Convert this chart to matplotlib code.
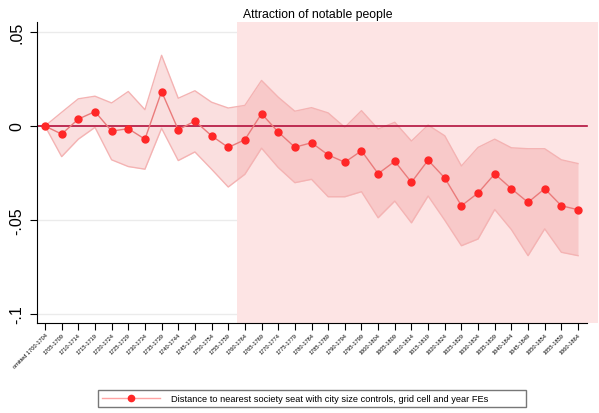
import numpy as np
import matplotlib
matplotlib.use("Agg")
import matplotlib.pyplot as plt

plt.rcParams['font.family'] = ['Liberation Sans', 'DejaVu Sans']

# periods 1700-1704 ... 1860-1864
starts = list(range(1700, 1865, 5))
labels = [f"{s}-{s + 4}" for s in starts]
labels[0] = "omitted " + labels[0]

coef = [0.0, -0.0043, 0.0037, 0.0077, -0.0027, -0.0014, -0.0070, 0.0184,
        -0.0020, 0.0027, -0.0052, -0.0114, -0.0073, 0.0066, -0.0032, -0.0113,
        -0.0089, -0.0154, -0.0193, -0.0132, -0.0254, -0.0188, -0.0300, -0.0182,
        -0.0277, -0.0425, -0.0357, -0.0255, -0.0334, -0.0407, -0.0334, -0.0425,
        -0.0446]
upper = [0.0, 0.0073, 0.0145, 0.0159, 0.0123, 0.0184, 0.0087, 0.0377,
         0.0148, 0.0188, 0.0127, 0.0096, 0.0110, 0.0243, 0.0154, 0.0079,
         0.0098, 0.0070, -0.0007, 0.0082, -0.0016, 0.0020, -0.0080, 0.0005,
         -0.0052, -0.0213, -0.0114, -0.0070, -0.0116, -0.0121, -0.0121, -0.0180,
         -0.0200]
lower = [0.0, -0.0163, -0.0070, -0.0007, -0.0180, -0.0216, -0.0230, -0.0012,
         -0.0184, -0.0138, -0.0230, -0.0325, -0.0257, -0.0118, -0.0221, -0.0302,
         -0.0284, -0.0377, -0.0377, -0.0350, -0.0489, -0.0400, -0.0516, -0.0373,
         -0.0502, -0.0638, -0.0602, -0.0445, -0.0552, -0.0691, -0.0548, -0.0673,
         -0.0691]

x = np.arange(len(labels))

fig = plt.figure(figsize=(5.99, 4.14), dpi=100)
ax = fig.add_axes([37 / 599, 1 - 324 / 414, 561 / 599, (324 - 23.3) / 414])

ax.set_xlim(-0.48, 33.2)
ax.set_ylim(-0.105, 0.0553)

# grid below everything
for yv in [0.05, -0.05, -0.1]:
    ax.axhline(yv, color='#ebebeb', lw=1, zorder=0)

# shaded period
ax.axvspan(11.5, 33.2, color='#fde4e4', lw=0, zorder=1)

# confidence band
ax.fill_between(x, lower, upper, color=(0.9, 0.32, 0.32), alpha=0.185, lw=0, zorder=2)
ax.plot(x, upper, color='#f4b3b3', lw=1, zorder=3)
ax.plot(x, lower, color='#f4b3b3', lw=1, zorder=3)

ax.plot([-0.48, 32.55], [0, 0], color='#b3103c', lw=1.2, zorder=4)

ax.plot(x, coef, color='#ea7b7b', lw=1, zorder=5)
ax.plot(x, coef, 'o', color='#ff2727', ms=5, mec='#ff2727', zorder=6,)

ax.set_yticks([0.05, 0, -0.05, -0.1])
ax.set_yticklabels(['.05', '0', '-.05', '-.1'], rotation=90, va='center', fontsize=11.5)
ax.set_xticks(x)
ax.set_xticklabels(labels, rotation=45, ha='right', rotation_mode='anchor', fontsize=4.1)
ax.tick_params(axis='y', length=5, width=0.8, pad=4)
ax.tick_params(axis='x', length=5, width=0.8, pad=1.5)

for s in ['top', 'right']:
    ax.spines[s].set_visible(False)
ax.spines['bottom'].set_bounds(-0.48, 32.56)
ax.spines['left'].set_zorder(7)
ax.spines['bottom'].set_zorder(7)

ax.set_title("Attraction of notable people", fontsize=8.8, pad=4)

h_line, = ax.plot([], [], color='#ffa3a3', lw=1, marker='o', ms=4.5,
                  mfc='#ff2727', mec='#ff2727')
fig.legend([h_line], ["Distance to nearest society seat with city size controls, grid cell and year FEs"],
           loc='center', bbox_to_anchor=(98 / 599, 1 - 413 / 414, 428 / 599, 27 / 414),
           mode='expand', fontsize=6.7, frameon=True, fancybox=False, edgecolor='#555555',
           handlelength=6.3, handletextpad=1.1, borderaxespad=0)

fig.savefig("out.png", dpi=100)
